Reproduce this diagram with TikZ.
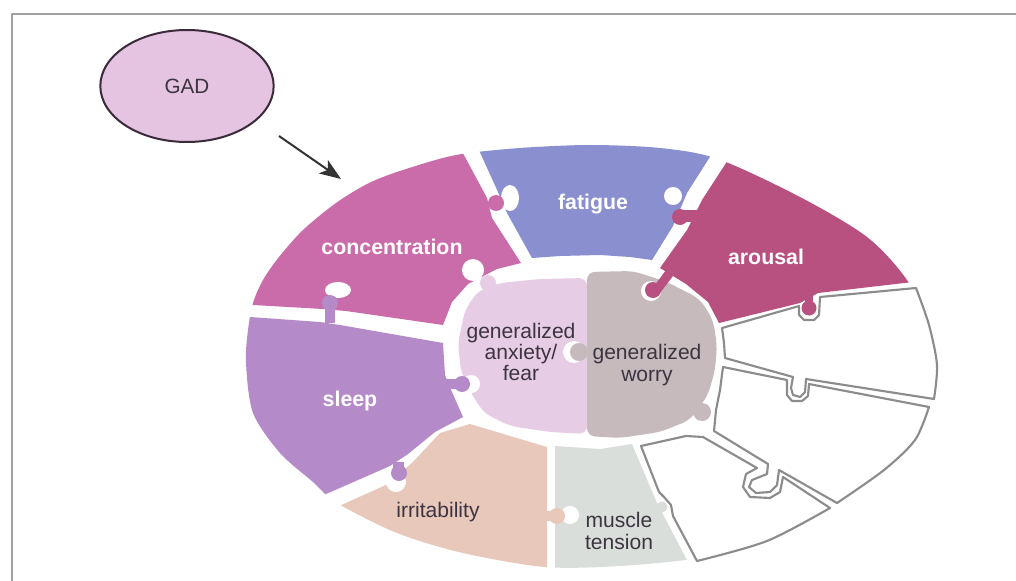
\documentclass[tikz,border=0pt]{standalone}
\usepackage{fontspec}
\setmainfont{Liberation Sans}
\usetikzlibrary{arrows.meta,shapes.geometric}
\definecolor{conc}{HTML}{CB6CAA}
\definecolor{fat}{HTML}{8A8FD0}
\definecolor{aro}{HTML}{B85080}
\definecolor{slp}{HTML}{B58AC8}
\definecolor{irr}{HTML}{E8C8BA}
\definecolor{mus}{HTML}{DADEDA}
\definecolor{anx}{HTML}{E6CCE4}
\definecolor{wor}{HTML}{C6BABC}
\definecolor{gadfill}{HTML}{E4C4E0}
\definecolor{gadline}{HTML}{3A2A3A}
\definecolor{txt}{HTML}{3C3440}
\definecolor{wpline}{HTML}{8C8C8C}
\definecolor{framec}{HTML}{A0A0A0}
\definecolor{arrc}{HTML}{333333}
\tikzset{
  wlab/.style={text=white, font=\fontsize{16}{19}\selectfont\bfseries, inner sep=0pt},
  dlab/.style={text=txt, font=\fontsize{15.8}{16}\selectfont, align=center, inner sep=0pt},
  wpiece/.style={draw=wpline, line width=1.6pt, line join=round},
}
\begin{document}
\begin{tikzpicture}[x=0.75pt,y=-0.75pt,line join=round]
\useasboundingbox (0,0) rectangle (1016,581);
\fill[white] (0,0) rectangle (1016,581);
\draw[framec, line width=1.5pt] (11.5,581) -- (11.5,14) -- (1016,14);

% GAD
\node[ellipse, draw=gadline, fill=gadfill, line width=1.5pt, minimum width=130pt, minimum height=84pt, inner sep=0pt, text=txt, font=\fontsize{15.5}{18}\selectfont] (gad) at (187,86) {GAD};
\coordinate (a1) at (279,136);
\coordinate (a2) at (341,179);
\draw[arrc, line width=1.5pt, -{Stealth[length=16pt,width=12pt,inset=4pt]}] (a1) -- (a2);

% colored outer pieces
\begin{scope}
\clip plot[smooth cycle] coordinates {(253,303) (263,280) (279,257) (303,230) (336,203) (369,183) (403,170) (456,155) (520,148) (590,145) (660,148) (718,159) (800,197) (867,237) (907,280) (928,325) (937,365) (934,400) (914,440) (883,470) (837,503) (767,540) (698,558) (620,566) (545,567) (463,553) (397,533) (337,503) (313,482) (280,453) (253,413) (246,363) (248,330)};
\fill[conc] (230,305) -- (253,305) -- (323,309) -- (346,311) -- (443,325) -- (452,302) -- (468,284) -- (497,269) -- (521,263) -- (492,218) -- (487,198) -- (465,157) -- (439,110) -- (230,110) -- cycle;
\fill[fat] (461,110) -- (478,148) -- (498,192) -- (507,213) -- (532,258) -- (560,256) -- (600,255) -- (630,257) -- (652,260) -- (673,226) -- (687,193) -- (713,152) -- (740,110) -- cycle;
\fill[aro] (760,110) -- (728,160) -- (702,200) -- (687,230) -- (660,268) -- (686,284) -- (708,302) -- (719,323) -- (800,303) -- (818,293) -- (913,282) -- (990,273) -- (990,110) -- cycle;
\fill[slp] (220,317) -- (250,317) -- (320,322) -- (340,325) -- (443,343) -- (445,375) -- (452,392) -- (463,417) -- (435,432) -- (408,454) -- (390,466) -- (333,491) -- (290,509) -- (220,520) -- cycle;
\fill[irr] (290,528) -- (337,507) -- (388,484) -- (413,462) -- (440,433) -- (470,424) -- (510,436) -- (547,447) -- (547,600) -- (290,600) -- cycle;
\fill[mus] (555,446) -- (600,449) -- (632,444) -- (657,503) -- (687,560) -- (700,600) -- (555,600) -- cycle;
\end{scope}

% central pieces
\fill[anx, rounded corners=6] (587,278) -- (540,279) -- (500,283) -- (478,291) -- (465,310) -- (458,343) -- (461,372) -- (471,393) -- (484,413) -- (510,426) -- (550,432) -- (587,434) -- cycle;
\fill[wor, rounded corners=6] (587,272) -- (633,271) -- (667,282) -- (700,299) -- (713,320) -- (717,345) -- (715,370) -- (708,395) -- (690,420) -- (660,432) -- (620,438) -- (587,436) -- cycle;

% knobs
\fill[white] (510,198) ellipse (9 and 13);
\fill[conc] (496,203) circle (8);
\fill[white] (673,196) circle (9);
\fill[aro] (680,210) rectangle (697,222);
\fill[aro] (680,217) circle (8);
\fill[white] (338,290) ellipse (13 and 8);
\fill[slp] (325,303) rectangle (335,323);
\fill[slp] (330,303) circle (8);
\fill[white] (473,270) circle (11);
\fill[anx] (488,283) circle (8);
\fill[white] (471,384) circle (9);
\fill[slp] (446,379) rectangle (462,389);
\fill[slp] (462,384) circle (8);
\fill[white] (396,482) circle (10);
\fill[slp] (393,462) rectangle (404,472);
\fill[slp] (399,473) circle (8);
\fill[white] (570,515) circle (9);
\fill[irr] (545,511) rectangle (556,521);
\fill[irr] (557,516) circle (8);
\fill[white] (574,352) circle (11);
\fill[wor] (579,352) circle (9);
\fill[white] (651,291) circle (10);
\fill[aro] (655,285) -- (666,270) -- (673,276) -- (660,293) -- cycle;
\fill[aro] (653,290) circle (8);
\fill[wor] (702,412) circle (9);
\fill[aro] (805,296) rectangle (813,308);
\fill[aro] (809,308) circle (7.5);
\fill[mus] (662,507) circle (5.5);

% outlined white pieces
\draw[wpiece] (722,328) -- (799,306) -- (799,315) -- (804,320) -- (814,320) -- (819,315) -- (820,297) -- (916,288) -- plot[smooth] coordinates {(916,288) (929,325) (937,365) (934,399)} -- (806,379) -- (805,392) -- (800,397) -- (793,395) -- (791,388) -- (793,377) -- (725,358) -- (724,343) -- cycle;
\draw[wpiece] (723,367) -- (787,380) -- (787,395) -- (792,401) -- (802,401) -- (808,396) -- (809,384) -- (929,407) -- plot[smooth] coordinates {(929,407) (915,440) (884,470) (837,503)} -- (779,470) -- (777,485) -- (770,492) -- (756,493) -- (749,487) -- (752,480) -- (767,474) -- (768,464) -- (714,431) -- (716,410) -- (720,390) -- cycle;
\draw[wpiece] (641,446) -- (686,436) -- (703,437) -- (757,468) -- (746,474) -- (743,487) -- (750,497) -- (770,498) -- (780,492) -- (783,477) -- (830,508) -- plot[smooth] coordinates {(830,508) (767,541) (697,561)} -- (673,516) -- (671,505) -- (664,497) -- (659,492) -- cycle;

% labels
\node[wlab] (tconc) at (392,247) {concentration};
\node[wlab] (tfat) at (593,204) {fatigue};
\node[wlab] (taro) at (766,257) {arousal};
\node[wlab] (tslp) at (350,401) {sleep};
\node[dlab] (tirr) at (438,512) {irritability};
\node[dlab] (tmus) at (619,531) {muscle\\tension};
\node[dlab] (tanx) at (521,352) {generalized\\anxiety/\\fear};
\node[dlab] (twor) at (647,365) {generalized\\worry};
\end{tikzpicture}
\end{document}
